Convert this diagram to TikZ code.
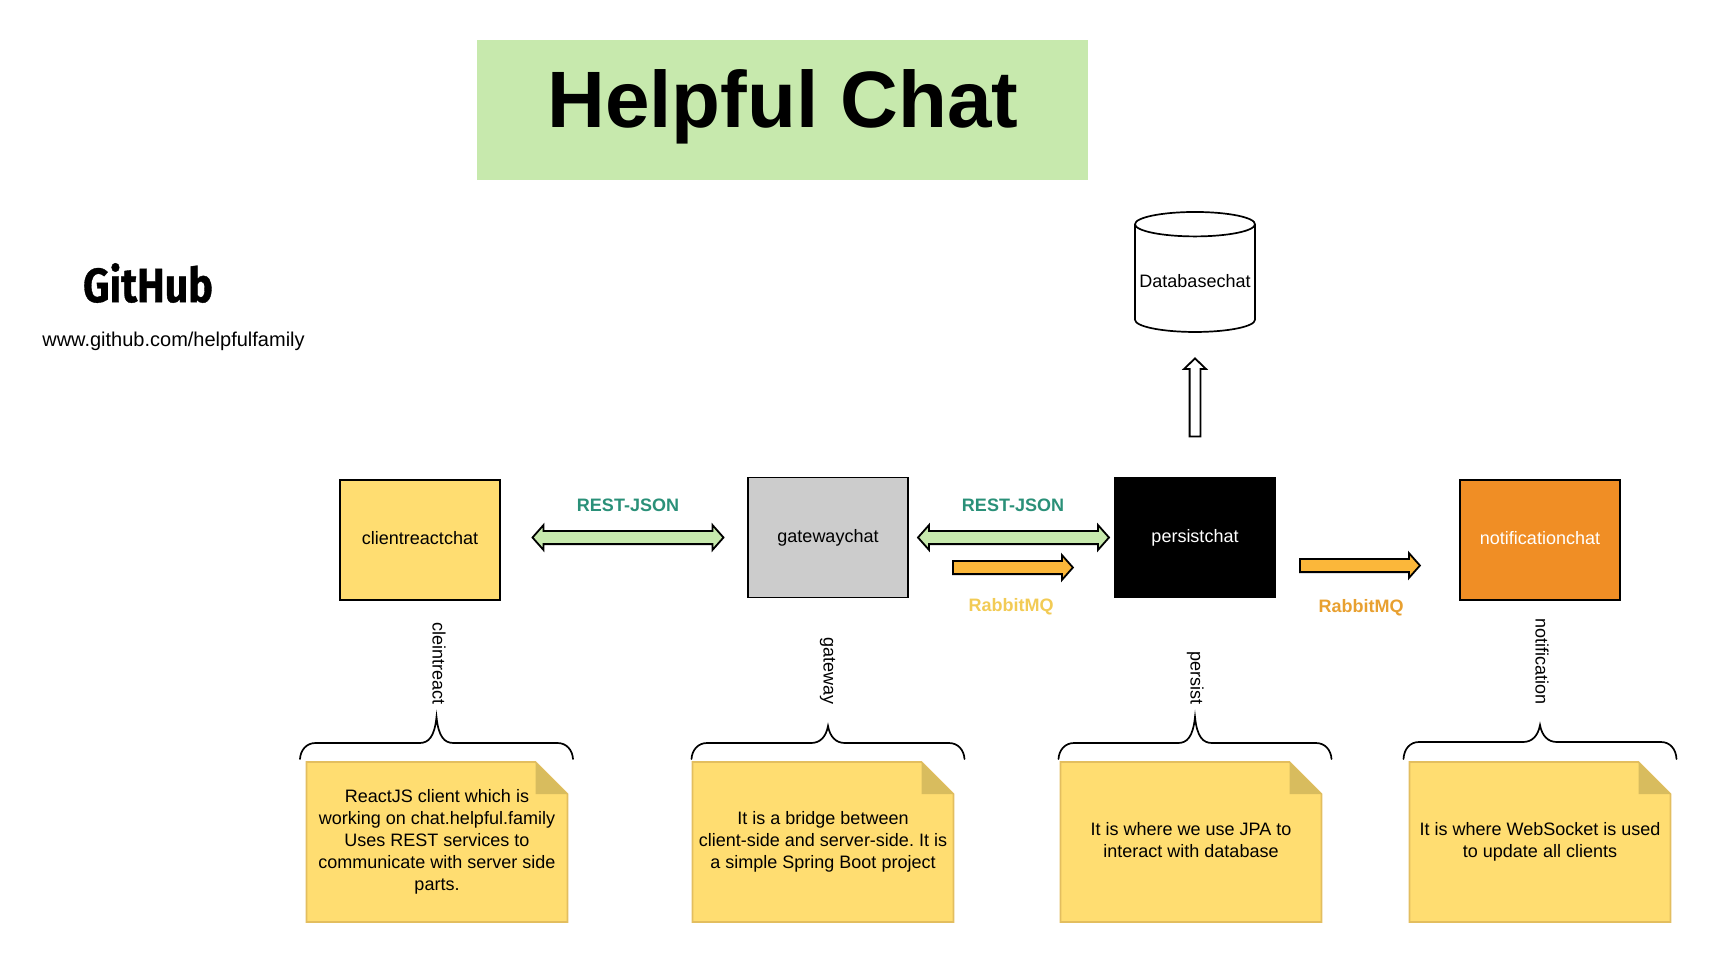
\documentclass[tikz,border=0pt]{standalone}
\usepackage{fontspec}
\setmainfont{Liberation Sans}
\newfontfamily\logofont[BoldFeatures={FakeBold=0.8}]{Fira Sans}
\usetikzlibrary{shapes.arrows,shapes.geometric}
\definecolor{titlegreen}{HTML}{C7E9AD}
\definecolor{noteyellow}{HTML}{FFDD71}
\definecolor{noteedge}{HTML}{E3BE5F}
\definecolor{notefold}{HTML}{D8BC5E}
\definecolor{boxgrey}{HTML}{CCCCCC}
\definecolor{boxorange}{HTML}{F08E25}
\definecolor{restgreen}{HTML}{2A9078}
\definecolor{rabbitlight}{HTML}{F2CB55}
\definecolor{rabbitdark}{HTML}{E8A030}
\definecolor{arroworange}{HTML}{FBB73A}
\tikzset{
  x=1pt,y=-1pt,
  body/.style={font=\frenchspacing\fontsize{18}{22}\selectfont},
  svcbox/.style={body,draw=black,line width=1.8pt,minimum width=160pt,minimum height=120pt,inner sep=0pt,text height=13pt,text depth=3pt},
  twoway/.style={double arrow,draw=black,line width=1.8pt,fill=titlegreen,inner sep=5.7pt,minimum width=23pt,double arrow head extend=5.8pt,double arrow head indent=0pt,double arrow tip angle=97},
  oneway/.style={single arrow,draw=black,line width=1.8pt,inner sep=5.7pt,minimum width=23pt,single arrow head extend=5.8pt,single arrow head indent=0pt,single arrow tip angle=97},
  proto/.style={font=\fontsize{18}{22}\selectfont\bfseries},
  sidelabel/.style={body,rotate=-90,anchor=east,inner sep=0pt,text height=13pt,text depth=4pt},
  notetext/.style={body,align=center,inner sep=0pt},
  bracepath/.style={draw=black,line width=1.7pt,line cap=round},
}
\newcommand{\notecard}[1]{%
  \fill[noteyellow,draw=noteedge,line width=1.6pt] (#1,762) -- (#1+229,762) -- (#1+261,794) -- (#1+261,922) -- (#1,922) -- cycle;
  \fill[notefold] (#1+229,762) -- (#1+261,794) -- (#1+229,794) -- cycle;
}
\newcommand{\curlybrace}[3]{% centre x, body y, tip y
  \draw[bracepath] (#1-136.5,759) .. controls (#1-136,#2+7) and (#1-130,#2) .. (#1-121,#2)
    -- (#1-17,#2) .. controls (#1-8,#2) and (#1-2,#2-6) .. (#1,#3)
    .. controls (#1+2,#2-6) and (#1+8,#2) .. (#1+17,#2)
    -- (#1+121,#2) .. controls (#1+130,#2) and (#1+136,#2+7) .. (#1+136.5,759);
}
\begin{document}
\begin{tikzpicture}
\useasboundingbox (0,0) rectangle (1717,962);
% title
\node[fill=titlegreen,minimum width=611pt,minimum height=140pt,inner sep=0pt] (titlebox) at (782.5,110) {};
\node[font=\fontsize{80}{90}\selectfont\bfseries,inner sep=0pt] (titletext) at (783,106.5) {Helpful Chat};
% github
\node[font=\logofont\fontsize{48}{54}\selectfont\bfseries,inner sep=0pt] (ghlogo) at (148,283) {\scalebox{0.86}[1]{GitHub}};
\node[font=\fontsize{20}{24}\selectfont,inner sep=0pt] (ghurl) at (173.5,341) {www.github.com/helpfulfamily};
% services
\node[svcbox,fill=noteyellow,text height=12pt,text depth=4pt] (client) at (420,540) {clientreactchat};
\node[svcbox,fill=boxgrey] (gateway) at (828,537.5) {gatewaychat};
\node[svcbox,fill=black,text=white] (persist) at (1195,537.5) {persistchat};
\node[svcbox,fill=boxorange,text=white,text height=12pt,text depth=4pt] (notif) at (1540,540) {notificationchat};
% database
\node[cylinder,shape border rotate=90,aspect=0.22,draw=black,line width=1.7pt,fill=white,minimum width=120pt,minimum height=120pt,inner sep=0pt,body,text height=18.6pt] (db) at (1195,278.5) {Databasechat};
% arrows
\node[twoway,minimum height=191pt] (arA) at (628,537.5) {};
\node[twoway,minimum height=191pt] (arB) at (1013.5,537.5) {};
\node[oneway,fill=arroworange,minimum height=120pt] (arC) at (1010,567.5) {};
\node[oneway,fill=arroworange,minimum height=120pt] (arD) at (1357,565.5) {};
\node[oneway,fill=white,inner sep=4.5pt,minimum width=20pt,single arrow head extend=5.5pt,single arrow tip angle=92,minimum height=78pt,shape border rotate=90] (arE) at (1195,400) {};
% protocol labels
\node[proto,text=restgreen,inner sep=0pt] (l1) at (628,505) {REST-JSON};
\node[proto,text=restgreen,inner sep=0pt] (l2) at (1013,505) {REST-JSON};
\node[proto,text=rabbitlight,inner sep=0pt] (l3) at (1011,607) {RabbitMQ};
\node[proto,text=rabbitdark,inner sep=0pt] (l4) at (1361,608) {RabbitMQ};
% side labels
\node[sidelabel] (s1) at (437,705) {cleintreact};
\node[sidelabel] (s2) at (828,705) {gateway};
\node[sidelabel] (s3) at (1195,705) {persist};
\node[sidelabel] (s4) at (1540,705) {notification};
% braces
\curlybrace{436.5}{743}{717}
\curlybrace{828}{743}{726}
\curlybrace{1195}{743}{717}
\curlybrace{1540}{742}{725}
% notes
\notecard{306.5}
\notecard{692.5}
\notecard{1060.5}
\notecard{1409.5}
\node[notetext] (n1) at (437,842) {ReactJS client which is\\working on chat.helpful.family\\Uses REST services to\\communicate with server side\\parts.};
\node[notetext] (n2) at (823,842) {It is a bridge between\\client-side and server-side. It is\\a simple Spring Boot project};
\node[notetext] (n3) at (1191,840) {It is where we use JPA to\\interact with database};
\node[notetext] (n4) at (1540,842) {It is where WebSocket is used\\to update all clients};
\end{tikzpicture}
\end{document}
